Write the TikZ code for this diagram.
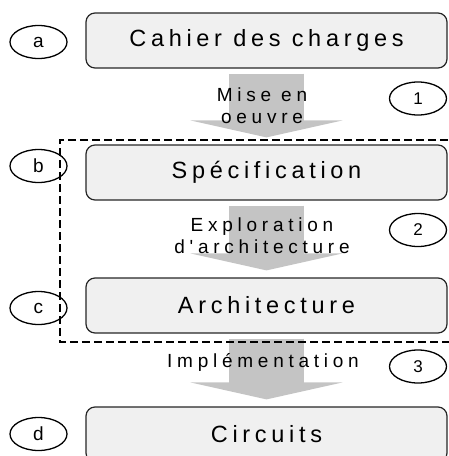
\documentclass[tikz,border=0pt]{standalone}
\usepackage{fontspec}
\setmainfont{Liberation Sans}
\newfontfamily\boxfont[LetterSpace=20]{Liberation Sans}
\newfontfamily\flowfont[LetterSpace=25]{Liberation Sans}
\usetikzlibrary{shapes.geometric,arrows.meta}

\definecolor{boxfill}{HTML}{F0F0F0}
\definecolor{flowgray}{HTML}{C4C4C4}

\tikzset{
  stage/.style={draw=black!85, line width=1.2pt, fill=boxfill, rounded corners=9pt,
    minimum width=361pt, minimum height=55pt, inner sep=0pt,
    font=\boxfont\fontsize{23.5}{28}\selectfont},
  tag/.style={ellipse, draw=black, line width=1.3pt, minimum width=57pt,
    minimum height=33pt, inner sep=0pt},
  lettertag/.style={tag, font=\fontsize{19}{20}\selectfont},
  numtag/.style={tag, font=\fontsize{17}{18}\selectfont},
  flow/.style={draw=flowgray, line width=75pt, line cap=butt,
    -{Triangle[width=152pt,length=17pt]}, shorten <=5pt, shorten >=7pt},
  flowlabel/.style={align=center, inner sep=0pt,
    font=\flowfont\fontsize{19}{22}\selectfont},
  zone/.style={draw=black, line width=1.8pt, dash pattern=on 8pt off 4pt}
}

\begin{document}
\begin{tikzpicture}[x=1pt, y=-1pt]
  \useasboundingbox (0,0) rectangle (448,456);

  % design stages
  \node[stage] (cahier) at (266.5,40.5)  {Cahier des charges};
  \node[stage] (spec)   at (266.5,172.5) {Spécification};
  \node[stage] (arch)   at (266.5,305.5) {Architecture};
  \node[stage] (circ)   at (266.5,434.5) {Circuits};

  % transitions between stages
  \draw[flow] (cahier.south) -- (spec.north);
  \draw[flow] (spec.south)   -- (arch.north);
  \draw[flow] (arch.south)   -- (circ.north);

  \node[flowlabel] (t1) at (262,106) {Mise en\\oeuvre};
  \node[flowlabel] (t2) at (262,236) {Exploration\\d'architecture};
  \node[flowlabel] (t3) at (263,362) {Implémentation};

  % stage letters
  \node[lettertag] (la) at (38.5,42)  {a};
  \node[lettertag] (lb) at (38.5,166) {b};
  \node[lettertag] (lc) at (38.5,308) {c};
  \node[lettertag] (ld) at (38.5,434) {d};

  % step numbers
  \node[numtag] (n1) at (418,98.5)  {1};
  \node[numtag] (n2) at (418,230)   {2};
  \node[numtag] (n3) at (418,366.5) {3};

  % dashed zone around specification and architecture
  \draw[zone] (460,140) -- (60,140) -- (60,342) -- (460,342);
\end{tikzpicture}
\end{document}
